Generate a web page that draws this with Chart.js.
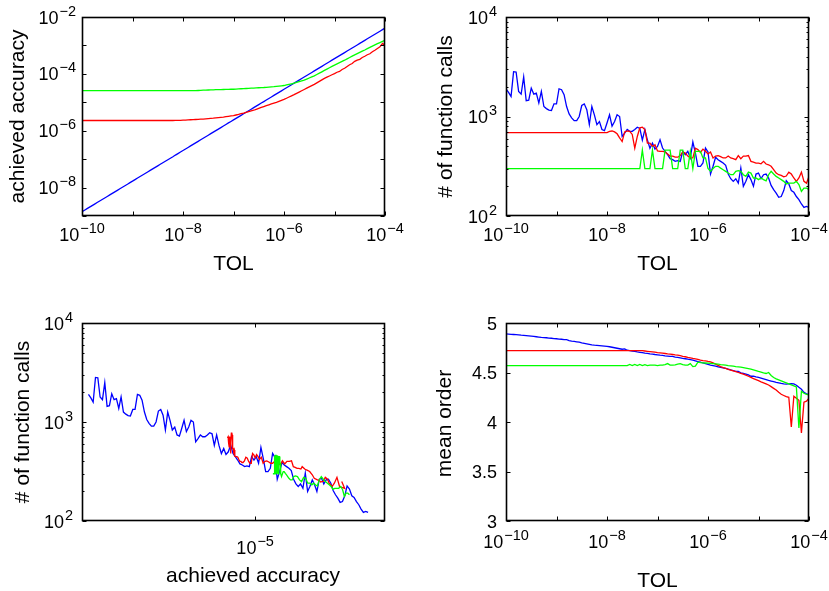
<!DOCTYPE html>
<html>
<head>
<meta charset="utf-8">
<script src="https://cdn.jsdelivr.net/npm/chart.js@4.4.0/dist/chart.umd.min.js"></script>
<style>
  body { margin: 0; background: #fff; width: 829px; height: 591px; position: relative; overflow: hidden; }
  canvas { position: absolute; }
</style>
</head>
<body>
<canvas id="accChart" width="414" height="295" style="left:0;top:0;width:414px;height:295px"></canvas>
<canvas id="callsChart" width="415" height="295" style="left:414px;top:0;width:415px;height:295px"></canvas>
<canvas id="callsAccChart" width="414" height="296" style="left:0;top:295px;width:414px;height:296px"></canvas>
<canvas id="orderChart" width="415" height="296" style="left:414px;top:295px;width:415px;height:296px"></canvas>
<script>
// TOL grid (20 steps per decade, 1e-10 .. 1e-4)
const tol = [
  1e-10,1.122e-10,1.259e-10,1.413e-10,1.585e-10,1.778e-10,1.995e-10,2.239e-10,2.512e-10,2.818e-10,
  3.162e-10,3.548e-10,3.981e-10,4.467e-10,5.012e-10,5.623e-10,6.31e-10,7.079e-10,7.943e-10,8.913e-10,
  1e-9,1.122e-9,1.259e-9,1.413e-9,1.585e-9,1.778e-9,1.995e-9,2.239e-9,2.512e-9,2.818e-9,
  3.162e-9,3.548e-9,3.981e-9,4.467e-9,5.012e-9,5.623e-9,6.31e-9,7.079e-9,7.943e-9,8.913e-9,
  1e-8,1.122e-8,1.259e-8,1.413e-8,1.585e-8,1.778e-8,1.995e-8,2.239e-8,2.512e-8,2.818e-8,
  3.162e-8,3.548e-8,3.981e-8,4.467e-8,5.012e-8,5.623e-8,6.31e-8,7.079e-8,7.943e-8,8.913e-8,
  1e-7,1.122e-7,1.259e-7,1.413e-7,1.585e-7,1.778e-7,1.995e-7,2.239e-7,2.512e-7,2.818e-7,
  3.162e-7,3.548e-7,3.981e-7,4.467e-7,5.012e-7,5.623e-7,6.31e-7,7.079e-7,7.943e-7,8.913e-7,
  1e-6,1.122e-6,1.259e-6,1.413e-6,1.585e-6,1.778e-6,1.995e-6,2.239e-6,2.512e-6,2.818e-6,
  3.162e-6,3.548e-6,3.981e-6,4.467e-6,5.012e-6,5.623e-6,6.31e-6,7.079e-6,7.943e-6,8.913e-6,
  1e-5,1.122e-5,1.259e-5,1.413e-5,1.585e-5,1.778e-5,1.995e-5,2.239e-5,2.512e-5,2.818e-5,
  3.162e-5,3.548e-5,3.981e-5,4.467e-5,5.012e-5,5.623e-5,6.31e-5,7.079e-5,7.943e-5,8.913e-5,
  1e-4
];

// achieved accuracy
const accBlue = [
  1.41e-9,1.60e-9,1.81e-9,2.05e-9,2.32e-9,2.62e-9,2.97e-9,3.36e-9,3.80e-9,4.30e-9,
  4.87e-9,5.51e-9,6.24e-9,7.07e-9,8.00e-9,9.06e-9,1.03e-8,1.16e-8,1.31e-8,1.49e-8,
  1.68e-8,1.91e-8,2.16e-8,2.44e-8,2.77e-8,3.13e-8,3.54e-8,4.01e-8,4.54e-8,5.14e-8,
  5.82e-8,6.59e-8,7.46e-8,8.44e-8,9.56e-8,1.08e-7,1.22e-7,1.39e-7,1.57e-7,1.78e-7,
  2.01e-7,2.28e-7,2.58e-7,2.92e-7,3.30e-7,3.74e-7,4.23e-7,4.79e-7,5.43e-7,6.14e-7,
  6.95e-7,7.87e-7,8.91e-7,1.01e-6,1.14e-6,1.29e-6,1.46e-6,1.66e-6,1.88e-6,2.12e-6,
  2.40e-6,2.72e-6,3.08e-6,3.48e-6,3.94e-6,4.46e-6,5.05e-6,5.72e-6,6.47e-6,7.33e-6,
  8.30e-6,9.39e-6,1.06e-5,1.20e-5,1.36e-5,1.54e-5,1.75e-5,1.98e-5,2.24e-5,2.53e-5,
  2.87e-5,3.24e-5,3.67e-5,4.16e-5,4.71e-5,5.33e-5,6.03e-5,6.83e-5,7.73e-5,8.75e-5,
  9.90e-5,1.12e-4,1.27e-4,1.44e-4,1.63e-4,1.84e-4,2.09e-4,2.36e-4,2.67e-4,3.03e-4,
  3.43e-4,3.86e-4,4.37e-4,4.95e-4,5.60e-4,6.34e-4,7.18e-4,8.12e-4,9.19e-4,1.04e-3,
  1.18e-3,1.33e-3,1.51e-3,1.71e-3,1.93e-3,2.19e-3,2.48e-3,2.80e-3,3.17e-3,3.59e-3,4.06e-3
];
const accRed = [
  2.29e-6,2.29e-6,2.29e-6,2.29e-6,2.29e-6,2.29e-6,2.29e-6,2.29e-6,2.29e-6,2.29e-6,
  2.29e-6,2.29e-6,2.29e-6,2.29e-6,2.29e-6,2.29e-6,2.29e-6,2.29e-6,2.29e-6,2.29e-6,
  2.29e-6,2.29e-6,2.29e-6,2.29e-6,2.29e-6,2.29e-6,2.29e-6,2.29e-6,2.29e-6,2.29e-6,
  2.29e-6,2.29e-6,2.29e-6,2.29e-6,2.29e-6,2.29e-6,2.29e-6,2.30e-6,2.31e-6,2.32e-6,
  2.34e-6,2.37e-6,2.40e-6,2.43e-6,2.45e-6,2.48e-6,2.51e-6,2.54e-6,2.57e-6,2.62e-6,
  2.66e-6,2.71e-6,2.75e-6,2.82e-6,2.88e-6,2.95e-6,3.02e-6,3.11e-6,3.20e-6,3.30e-6,
  3.39e-6,3.57e-6,3.76e-6,3.98e-6,4.17e-6,4.42e-6,4.68e-6,4.95e-6,5.25e-6,5.66e-6,
  6.10e-6,6.58e-6,7.08e-6,7.59e-6,8.13e-6,8.71e-6,9.33e-6,1.00e-5,1.08e-5,1.17e-5,
  1.26e-5,1.39e-5,1.53e-5,1.69e-5,1.86e-5,2.07e-5,2.29e-5,2.54e-5,2.82e-5,3.13e-5,
  3.47e-5,3.85e-5,4.27e-5,4.82e-5,5.43e-5,6.14e-5,6.92e-5,7.63e-5,8.41e-5,9.29e-5,
  1.02e-4,1.14e-4,1.22e-4,1.42e-4,1.58e-4,1.82e-4,2.09e-4,2.32e-4,2.75e-4,3.05e-4,
  3.25e-4,3.76e-4,4.17e-4,4.71e-4,5.10e-4,6.00e-4,6.76e-4,7.76e-4,8.91e-4,1.17e-3,1.00e-3
];
const accGreen = [
  2.57e-5,2.57e-5,2.57e-5,2.57e-5,2.57e-5,2.57e-5,2.57e-5,2.57e-5,2.57e-5,2.57e-5,
  2.57e-5,2.57e-5,2.57e-5,2.57e-5,2.57e-5,2.57e-5,2.57e-5,2.57e-5,2.57e-5,2.57e-5,
  2.57e-5,2.57e-5,2.57e-5,2.57e-5,2.57e-5,2.57e-5,2.57e-5,2.57e-5,2.57e-5,2.57e-5,
  2.57e-5,2.57e-5,2.57e-5,2.57e-5,2.57e-5,2.57e-5,2.57e-5,2.57e-5,2.57e-5,2.57e-5,
  2.57e-5,2.57e-5,2.57e-5,2.57e-5,2.57e-5,2.57e-5,2.60e-5,2.63e-5,2.66e-5,2.69e-5,
  2.71e-5,2.73e-5,2.75e-5,2.77e-5,2.79e-5,2.81e-5,2.82e-5,2.84e-5,2.85e-5,2.87e-5,
  2.88e-5,2.92e-5,2.95e-5,2.99e-5,3.02e-5,3.05e-5,3.09e-5,3.13e-5,3.16e-5,3.20e-5,
  3.24e-5,3.27e-5,3.31e-5,3.37e-5,3.43e-5,3.49e-5,3.55e-5,3.63e-5,3.72e-5,3.80e-5,
  3.89e-5,4.07e-5,4.27e-5,4.47e-5,4.68e-5,4.99e-5,5.31e-5,5.66e-5,6.03e-5,6.57e-5,
  7.16e-5,7.82e-5,8.51e-5,9.50e-5,1.06e-4,1.18e-4,1.32e-4,1.47e-4,1.64e-4,1.83e-4,
  2.04e-4,2.25e-4,2.48e-4,2.74e-4,3.02e-4,3.37e-4,3.76e-4,4.20e-4,4.68e-4,5.16e-4,
  5.69e-4,6.28e-4,6.92e-4,7.67e-4,8.51e-4,9.44e-4,1.05e-3,1.15e-3,1.26e-3,1.38e-3,1.51e-3
];

// number of function calls
const callsBlue = [
  1900,1750,1590,2820,2800,1790,1680,2500,1440,1460,
  1930,1680,1720,1370,1790,1260,1200,1160,1150,1340,
  1340,1900,1860,1660,1260,1060,970,910,910,1000,
  1290,1340,1170,830,1260,1040,830,890,740,720,
  860,1040,800,890,1040,1000,630,680,740,710,
  710,740,780,760,580,740,580,480,540,470,
  500,585,482,447,413,377,368,354,360,354,
  447,413,447,383,554,430,316,316,341,482,
  440,264,316,389,368,354,341,323,264,237,
  223,237,214,304,199,223,260,232,199,264,
  270,237,260,264,241,203,184,170,154,157,
  180,226,210,180,173,157,146,132,122,125,122
];
const callsRed = [
  690,690,690,690,690,690,690,690,690,690,
  690,690,690,690,690,690,690,690,690,690,
  690,690,690,690,690,690,690,690,690,690,
  690,690,690,690,690,690,690,690,690,690,
  690,710,715,700,670,610,560,700,715,710,
  660,480,630,770,780,740,540,540,500,520,
  450,447,447,440,420,400,400,390,390,405,
  440,430,400,383,383,480,465,435,470,447,
  420,440,383,400,405,395,383,383,400,383,
  377,368,405,377,400,400,405,354,348,340,
  340,335,354,333,327,316,293,270,260,256,
  248,252,276,264,241,223,241,276,223,214,250
];
const callsGreen = [
  300,300,300,300,300,300,300,300,300,300,
  300,300,300,300,300,300,300,300,300,300,
  300,300,300,300,300,300,300,300,300,300,
  300,300,300,300,300,300,300,300,300,300,
  300,300,300,300,300,300,300,300,300,300,
  300,300,300,300,460,300,300,300,460,300,
  300,300,300,460,460,460,300,300,300,460,
  460,300,300,447,300,447,447,447,383,383,
  300,281,300,316,316,303,292,281,270,260,
  260,281,285,281,260,250,276,270,241,241,
  232,241,232,226,260,281,264,250,241,232,
  223,210,214,214,214,223,207,177,191,191,184
];

// mean order
const orderBlue = [
  4.89,4.888,4.886,4.884,4.882,4.88,4.877,4.875,4.873,4.87,
  4.867,4.864,4.861,4.858,4.855,4.853,4.851,4.848,4.846,4.843,
  4.841,4.838,4.836,4.832,4.832,4.823,4.818,4.814,4.81,4.806,
  4.80,4.795,4.79,4.785,4.78,4.776,4.774,4.772,4.769,4.766,
  4.763,4.76,4.755,4.75,4.745,4.74,4.735,4.738,4.725,4.721,
  4.717,4.713,4.708,4.704,4.70,4.696,4.693,4.689,4.686,4.682,
  4.679,4.675,4.672,4.668,4.665,4.662,4.663,4.655,4.652,4.648,
  4.643,4.639,4.634,4.63,4.625,4.618,4.611,4.604,4.596,4.589,
  4.582,4.575,4.57,4.564,4.558,4.552,4.547,4.541,4.534,4.526,
  4.519,4.512,4.51,4.497,4.49,4.483,4.476,4.462,4.463,4.456,
  4.45,4.443,4.436,4.429,4.421,4.414,4.407,4.40,4.395,4.39,
  4.386,4.383,4.385,4.388,4.385,4.372,4.35,4.33,4.30,4.285,4.28
];
const orderRed = [
  4.72,4.72,4.72,4.72,4.72,4.72,4.72,4.72,4.72,4.72,
  4.72,4.72,4.72,4.72,4.72,4.72,4.72,4.72,4.72,4.72,
  4.72,4.72,4.72,4.72,4.72,4.72,4.72,4.72,4.72,4.72,
  4.72,4.72,4.72,4.72,4.72,4.72,4.72,4.72,4.72,4.72,
  4.72,4.72,4.72,4.72,4.72,4.72,4.72,4.72,4.72,4.72,
  4.72,4.72,4.72,4.72,4.72,4.717,4.714,4.711,4.708,4.705,
  4.701,4.698,4.695,4.692,4.688,4.685,4.682,4.678,4.675,4.67,
  4.664,4.659,4.653,4.648,4.642,4.637,4.632,4.626,4.621,4.617,
  4.612,4.608,4.598,4.585,4.572,4.56,4.55,4.541,4.532,4.524,
  4.516,4.508,4.50,4.492,4.484,4.473,4.462,4.45,4.439,4.428,
  4.417,4.406,4.396,4.385,4.374,4.357,4.34,4.323,4.30,4.28,
  4.268,4.256,4.25,3.95,4.26,4.24,4.22,3.89,4.20,4.21,4.24
];
const orderGreen = [
  4.57,4.57,4.57,4.57,4.57,4.57,4.57,4.57,4.57,4.57,
  4.57,4.57,4.57,4.57,4.57,4.57,4.57,4.57,4.57,4.57,
  4.57,4.57,4.57,4.57,4.57,4.57,4.57,4.57,4.57,4.57,
  4.57,4.57,4.57,4.57,4.57,4.57,4.57,4.57,4.57,4.57,
  4.57,4.57,4.57,4.57,4.57,4.57,4.57,4.57,4.57,4.582,
  4.57,4.582,4.57,4.582,4.57,4.58,4.57,4.575,4.575,4.575,
  4.57,4.575,4.575,4.58,4.59,4.575,4.575,4.578,4.585,4.59,
  4.58,4.575,4.575,4.59,4.56,4.565,4.605,4.60,4.598,4.596,
  4.594,4.592,4.59,4.587,4.584,4.58,4.577,4.574,4.57,4.567,
  4.564,4.56,4.557,4.554,4.55,4.545,4.54,4.534,4.527,4.52,
  4.512,4.505,4.497,4.49,4.50,4.47,4.45,4.435,4.425,4.415,
  4.405,4.395,4.385,4.375,4.365,4.355,3.94,4.31,4.29,4.28,4.275
];

// tick labels
const tolTickValues = [1e-10, 1e-8, 1e-6, 1e-4];
const tolTickLabels = ['10^-10', '10^-8', '10^-6', '10^-4'];
const accTickValues = [1e-8, 1e-6, 1e-4, 1e-2];
const accTickLabels = ['10^-8', '10^-6', '10^-4', '10^-2'];
const callTickValues = [1e2, 1e3, 1e4];
const callTickLabels = ['10^2', '10^3', '10^4'];
const accXTickValues = [1e-5];
const accXTickLabels = ['10^-5'];
const orderTickValues = [3, 3.5, 4, 4.5, 5];
const orderTickLabels = ['3', '3.5', '4', '4.5', '5'];

const BLUE = '#0000ff', RED = '#ff0000', GREEN = '#00ff00';
const FONT = '"Liberation Sans", Arial, Helvetica, sans-serif';

function pts(xs, ys) {
  return xs.map((x, i) => ({ x: x, y: ys[i] }));
}

function decades(min, max) {
  const out = [];
  for (let e = Math.ceil(Math.log10(min) - 1e-9); e <= Math.floor(Math.log10(max) + 1e-9); e++) out.push(Math.pow(10, e));
  return out;
}

function minors(min, max) {
  const out = [];
  for (const d of decades(min / 10, max)) {
    for (let m = 2; m <= 9; m++) {
      const v = d * m;
      if (v > min && v < max) out.push(v);
    }
  }
  return out;
}

// draws "10^-8" style labels with a raised exponent
function drawLabel(ctx, text, x, y, align) {
  const parts = text.split('^');
  ctx.font = '18px ' + FONT;
  const bw = ctx.measureText(parts[0]).width;
  let sup = '', sw = 0;
  if (parts.length > 1) {
    sup = parts[1].replace('-', '\u2212');
    ctx.font = '14.5px ' + FONT;
    sw = ctx.measureText(sup).width + 1;
  }
  const w = bw + sw;
  let x0 = x;
  if (align === 'center') x0 = x - w / 2;
  else if (align === 'right') x0 = x - w;
  ctx.textAlign = 'left';
  ctx.textBaseline = 'alphabetic';
  ctx.font = '18px ' + FONT;
  ctx.fillText(parts[0], x0, y);
  if (sup) {
    ctx.font = '14.5px ' + FONT;
    ctx.fillText(sup, x0 + bw + 1, y - 8);
  }
}

// MATLAB-like boxed axes: ticks inside on all four sides
const matlabAxes = {
  id: 'matlabAxes',
  afterDraw(chart, args, o) {
    const ctx = chart.ctx;
    const a = chart.chartArea;
    const xs = chart.scales.x, ys = chart.scales.y;
    ctx.save();
    ctx.strokeStyle = '#000';
    ctx.fillStyle = '#000';
    ctx.lineWidth = 1;
    ctx.beginPath();
    const L = a.left + 0.5, R = a.right - 0.5, T = a.top + 0.5, B = a.bottom - 0.5;
    const xTick = (v, len) => {
      const p = Math.round(xs.getPixelForValue(v)) + 0.5;
      ctx.moveTo(p, B); ctx.lineTo(p, B - len);
      ctx.moveTo(p, T); ctx.lineTo(p, T + len);
    };
    const yTick = (v, len) => {
      const p = Math.round(ys.getPixelForValue(v)) + 0.5;
      ctx.moveTo(L, p); ctx.lineTo(L + len, p);
      ctx.moveTo(R, p); ctx.lineTo(R - len, p);
    };
    o.xTicks.forEach(v => xTick(v, 4));
    (o.xMinor || []).forEach(v => xTick(v, 2));
    o.yTicks.forEach(v => yTick(v, 4));
    (o.yMinor || []).forEach(v => yTick(v, 2));
    ctx.stroke();
    ctx.lineWidth = 1.6;
    ctx.strokeRect(L, T, R - L, B - T);

    o.xLabels.forEach((t, i) => drawLabel(ctx, t, xs.getPixelForValue(o.xLabelValues[i]), a.bottom + o.xLabelDy, 'center'));
    o.yLabels.forEach((t, i) => drawLabel(ctx, t, a.left - o.yLabelGap, ys.getPixelForValue(o.yLabelValues[i]) + 6.5, 'right'));

    ctx.font = '21px ' + FONT;
    ctx.textAlign = 'center';
    ctx.textBaseline = 'alphabetic';
    ctx.fillText(o.xTitle.text, o.xTitle.x, o.xTitle.y);
    ctx.save();
    ctx.translate(o.yTitle.x, o.yTitle.y);
    ctx.rotate(-Math.PI / 2);
    ctx.textBaseline = 'middle';
    ctx.fillText(o.yTitle.text, 0, 0);
    ctx.restore();
    ctx.restore();
  }
};

function makeChart(id, datasets, xScale, yScale, padding, axes) {
  return new Chart(document.getElementById(id), {
    type: 'line',
    data: { datasets: datasets },
    options: {
      responsive: false,
      animation: false,
      devicePixelRatio: 1,
      layout: { padding: padding },
      elements: { point: { radius: 0 }, line: { borderWidth: 1.3, tension: 0 } },
      scales: {
        x: Object.assign({ display: false }, xScale),
        y: Object.assign({ display: false }, yScale)
      },
      plugins: { legend: { display: false }, tooltip: { enabled: false }, matlabAxes: axes }
    },
    plugins: [matlabAxes]
  });
}

function line(data, color) {
  return { data: data, borderColor: color, backgroundColor: color, fill: false };
}

// top left: achieved accuracy vs TOL
makeChart('accChart',
  [line(pts(tol, accGreen), GREEN), line(pts(tol, accRed), RED), line(pts(tol, accBlue), BLUE)],
  { type: 'logarithmic', min: 1e-10, max: 1e-4 },
  { type: 'logarithmic', min: 1e-9, max: 1e-2 },
  { left: 82, top: 17, right: 29, bottom: 79 },
  {
    xTicks: decades(1e-10, 1e-4), yTicks: decades(1e-9, 1e-2),
    xLabelValues: tolTickValues, xLabels: tolTickLabels, xLabelDy: 24.5,
    yLabelValues: accTickValues, yLabels: accTickLabels, yLabelGap: 6,
    xTitle: { text: 'TOL', x: 233.5, y: 270 },
    yTitle: { text: 'achieved accuracy', x: 18, y: 116.5 }
  });

// top right: function calls vs TOL
makeChart('callsChart',
  [line(pts(tol, callsGreen), GREEN), line(pts(tol, callsRed), RED), line(pts(tol, callsBlue), BLUE)],
  { type: 'logarithmic', min: 1e-10, max: 1e-4 },
  { type: 'logarithmic', min: 1e2, max: 1e4 },
  { left: 92, top: 17, right: 20, bottom: 79 },
  {
    xTicks: decades(1e-10, 1e-4), yTicks: decades(1e2, 1e4), yMinor: minors(1e2, 1e4),
    xLabelValues: tolTickValues, xLabels: tolTickLabels, xLabelDy: 24.5,
    yLabelValues: callTickValues, yLabels: callTickLabels, yLabelGap: 9,
    xTitle: { text: 'TOL', x: 243.5, y: 270 },
    yTitle: { text: '# of function calls', x: 32, y: 116.5 }
  });

// bottom left: function calls vs achieved accuracy
makeChart('callsAccChart',
  [line(pts(accGreen, callsGreen), GREEN), line(pts(accRed, callsRed), RED), line(pts(accBlue, callsBlue), BLUE)],
  { type: 'logarithmic', min: 1e-9, max: 1e-2 },
  { type: 'logarithmic', min: 1e2, max: 1e4 },
  { left: 82, top: 28, right: 29, bottom: 70 },
  {
    xTicks: accXTickValues, yTicks: decades(1e2, 1e4), yMinor: minors(1e2, 1e4),
    xLabelValues: accXTickValues, xLabels: accXTickLabels, xLabelDy: 33,
    yLabelValues: callTickValues, yLabels: callTickLabels, yLabelGap: 9,
    xTitle: { text: 'achieved accuracy', x: 253, y: 287 },
    yTitle: { text: '# of function calls', x: 23, y: 127 }
  });

// bottom right: mean order vs TOL
makeChart('orderChart',
  [line(pts(tol, orderGreen), GREEN), line(pts(tol, orderRed), RED), line(pts(tol, orderBlue), BLUE)],
  { type: 'logarithmic', min: 1e-10, max: 1e-4 },
  { type: 'linear', min: 3, max: 5 },
  { left: 92, top: 28, right: 20, bottom: 70 },
  {
    xTicks: decades(1e-10, 1e-4), yTicks: orderTickValues,
    xLabelValues: tolTickValues, xLabels: tolTickLabels, xLabelDy: 27,
    yLabelValues: orderTickValues, yLabels: orderTickLabels, yLabelGap: 9,
    xTitle: { text: 'TOL', x: 243.5, y: 292 },
    yTitle: { text: 'mean order', x: 31, y: 128.5 }
  });
</script>
</body>
</html>
